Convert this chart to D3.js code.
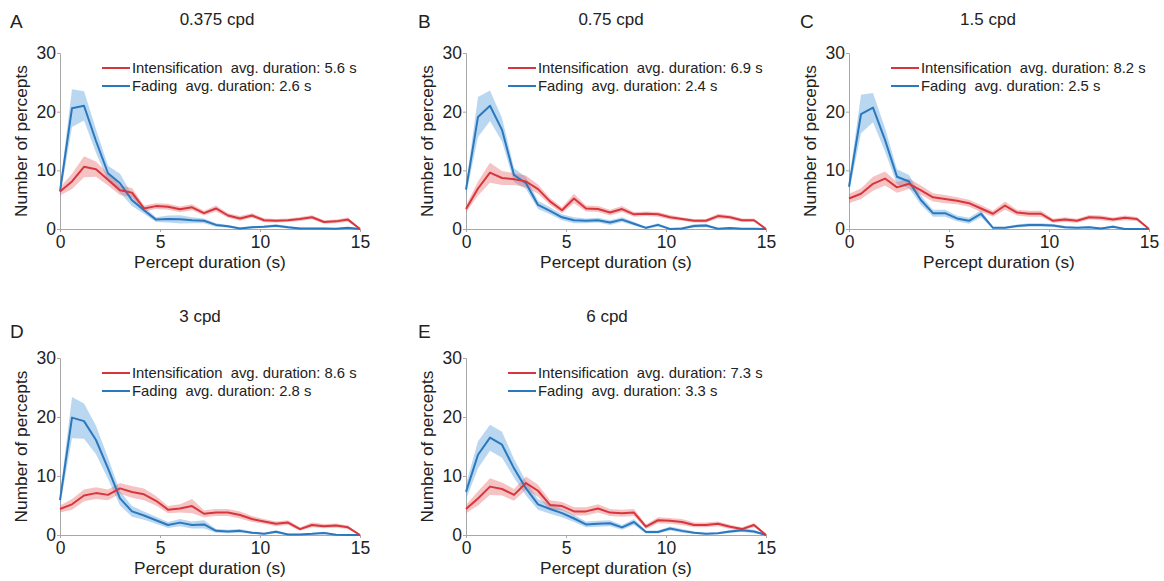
<!DOCTYPE html>
<html>
<head>
<meta charset="utf-8">
<script src="https://cdn.jsdelivr.net/npm/d3@7"></script>
<style>
  body { margin: 0; background: #fff; }
  svg text { font-family: "Liberation Sans", Arial, Helvetica, sans-serif; fill: #222; }
</style>
</head>
<body>
<svg id="fig" width="1164" height="581"></svg>
<script>
// Percept-duration histogram bins (s)
const durationBins = [0, 0.6, 1.2, 1.8, 2.4, 3.0, 3.6, 4.2, 4.8, 5.4, 6.0, 6.6, 7.2, 7.8, 8.4, 9.0, 9.6, 10.2, 10.8, 11.4, 12.0, 12.6, 13.2, 13.8, 14.4, 15.0];
const xTickValues = [0, 5, 10, 15];
const yTickValues = [0, 10, 20, 30];

const panelLetters = ["A", "B", "C", "D", "E"];
const panelTitles = ["0.375 cpd", "0.75 cpd", "1.5 cpd", "3 cpd", "6 cpd"];
const intensAvg = [5.6, 6.9, 8.2, 8.6, 7.3];
const fadingAvg = [2.6, 2.4, 2.5, 2.8, 3.3];

// Mean number of percepts per bin and the half-width of the shaded error band
const intensA    = [6.4, 8.1, 10.6, 10.2, 8.4, 6.6, 6.2, 3.5, 3.9, 3.8, 3.35, 3.7, 2.7, 3.5, 2.3, 1.8, 2.3, 1.5, 1.4, 1.5, 1.7, 2.0, 1.2, 1.3, 1.6, 0];
const intensAErr = [0.7, 1.3, 1.8, 1.3, 1.0, 0.8, 0.8, 0.5, 0.5, 0.5, 0.5, 0.5, 0.4, 0.5, 0.4, 0.4, 0.4, 0.35, 0.3, 0.3, 0.35, 0.35, 0.3, 0.3, 0.35, 0.05];
const fadingA    = [6.4, 20.6, 21.0, 15.0, 9.5, 7.8, 4.9, 3.2, 1.6, 1.7, 1.65, 1.5, 1.4, 0.7, 0.45, 0.1, 0.3, 0.4, 0.55, 0.3, 0.1, 0.1, 0.1, 0.05, 0.2, 0];
const fadingAErr = [0.9, 3.2, 2.5, 2.0, 1.3, 1.6, 1.0, 0.6, 0.4, 0.6, 0.7, 0.5, 0.4, 0.3, 0.25, 0.15, 0.2, 0.2, 0.25, 0.2, 0.15, 0.1, 0.1, 0.1, 0.15, 0.05];

const intensB    = [3.4, 6.9, 9.6, 8.7, 8.5, 8.1, 6.8, 4.7, 3.2, 5.2, 3.5, 3.4, 2.8, 3.4, 2.5, 2.6, 2.5, 2.0, 1.7, 1.4, 1.4, 2.2, 2.0, 1.5, 1.5, 0];
const intensBErr = [0.6, 1.2, 1.7, 1.2, 1.0, 1.0, 0.8, 0.6, 0.5, 0.8, 0.5, 0.5, 0.5, 0.5, 0.4, 0.4, 0.4, 0.4, 0.3, 0.3, 0.3, 0.4, 0.35, 0.3, 0.3, 0.05];
const fadingB    = [6.7, 19.1, 21.0, 16.9, 9.2, 7.8, 4.1, 3.1, 2.0, 1.5, 1.4, 1.5, 1.1, 1.6, 0.9, 0.2, 0.7, 0.0, 0.1, 0.5, 0.6, 0.05, 0.15, 0.05, 0.05, 0];
const fadingBErr = [0.9, 3.4, 2.6, 2.0, 1.2, 1.0, 0.7, 0.6, 0.5, 0.5, 0.4, 0.4, 0.4, 0.4, 0.3, 0.2, 0.3, 0.1, 0.2, 0.3, 0.3, 0.1, 0.1, 0.1, 0.1, 0.05];

const intensC    = [5.2, 6.0, 7.7, 8.6, 7.1, 7.7, 6.6, 5.4, 5.1, 4.8, 4.4, 3.5, 2.6, 4.0, 2.8, 2.6, 2.6, 1.4, 1.6, 1.4, 2.0, 1.9, 1.6, 1.9, 1.7, 0];
const intensCErr = [0.8, 0.9, 1.2, 1.2, 0.9, 0.9, 0.8, 0.7, 0.7, 0.6, 0.6, 0.6, 0.5, 0.7, 0.5, 0.5, 0.5, 0.35, 0.4, 0.35, 0.4, 0.4, 0.35, 0.4, 0.35, 0.05];
const fadingC    = [7.2, 19.6, 20.7, 15.2, 8.9, 8.1, 4.9, 2.7, 2.7, 1.8, 1.4, 2.6, 0.2, 0.2, 0.5, 0.7, 0.7, 0.6, 0.3, 0.2, 0.3, 0.1, 0.4, 0.0, 0.0, 0];
const fadingCErr = [1.0, 3.3, 2.5, 2.0, 1.3, 1.1, 0.8, 0.6, 0.6, 0.5, 0.5, 0.6, 0.15, 0.15, 0.25, 0.3, 0.3, 0.25, 0.2, 0.15, 0.2, 0.1, 0.25, 0.05, 0.05, 0.05];

const intensD    = [4.4, 5.2, 6.7, 7.1, 6.8, 7.9, 7.3, 6.9, 5.8, 4.3, 4.5, 4.9, 3.6, 3.8, 3.8, 3.4, 2.7, 2.3, 1.9, 2.1, 1.0, 1.7, 1.5, 1.6, 1.3, 0];
const intensDErr = [0.6, 0.9, 1.0, 1.0, 0.9, 0.9, 1.0, 1.0, 0.8, 0.6, 0.7, 1.2, 0.6, 0.6, 0.6, 0.6, 0.5, 0.4, 0.4, 0.4, 0.3, 0.4, 0.35, 0.35, 0.3, 0.05];
const fadingD    = [5.9, 19.9, 19.3, 16.1, 11.3, 6.2, 4.0, 3.3, 2.5, 1.7, 2.1, 1.7, 1.8, 0.7, 0.6, 0.7, 0.4, 0.2, 0.55, 0.1, 0.1, 0.2, 0.35, 0.05, 0.0, 0];
const fadingDErr = [1.0, 3.5, 3.0, 2.4, 1.8, 1.2, 0.9, 0.7, 0.6, 0.5, 0.6, 0.6, 0.7, 0.3, 0.3, 0.3, 0.2, 0.15, 0.25, 0.1, 0.1, 0.15, 0.2, 0.05, 0.05, 0.05];

const intensE    = [4.4, 6.2, 8.2, 7.8, 6.8, 8.8, 7.5, 5.1, 4.9, 4.0, 4.0, 4.5, 3.8, 3.7, 3.8, 1.4, 2.5, 2.4, 2.2, 1.7, 1.7, 1.9, 1.4, 1.0, 1.7, 0];
const intensEErr = [0.7, 1.2, 1.4, 1.1, 1.0, 1.1, 1.0, 0.8, 0.7, 0.7, 0.7, 0.7, 0.6, 0.6, 0.6, 0.4, 0.5, 0.5, 0.5, 0.4, 0.4, 0.4, 0.35, 0.3, 0.35, 0.05];
const fadingE    = [7.3, 13.6, 16.5, 15.3, 11.3, 7.9, 5.2, 4.4, 3.7, 2.8, 1.8, 1.9, 2.0, 1.3, 2.2, 0.5, 0.5, 1.1, 0.7, 0.4, 0.2, 0.3, 0.6, 0.8, 0.6, 0];
const fadingEErr = [1.3, 2.3, 2.2, 2.2, 1.6, 1.2, 0.9, 0.8, 0.7, 0.6, 0.5, 0.5, 0.5, 0.4, 0.5, 0.25, 0.25, 0.35, 0.3, 0.2, 0.15, 0.15, 0.25, 0.3, 0.3, 0.05];

const intensSeries = [intensA, intensB, intensC, intensD, intensE];
const intensErrors = [intensAErr, intensBErr, intensCErr, intensDErr, intensEErr];
const fadingSeries = [fadingA, fadingB, fadingC, fadingD, fadingE];
const fadingErrors = [fadingAErr, fadingBErr, fadingCErr, fadingDErr, fadingEErr];

// Placement of each panel on the page
const frames = [
  { left: 60,  top: 53,  bottom: 229, letterX: 10,  letterY: 28,  titleX: 217, titleY: 25 },
  { left: 466, top: 53,  bottom: 229, letterX: 418, letterY: 28,  titleX: 611, titleY: 25 },
  { left: 849, top: 53,  bottom: 229, letterX: 800, letterY: 28,  titleX: 988, titleY: 25 },
  { left: 60,  top: 358, bottom: 535, letterX: 10,  letterY: 338, titleX: 200, titleY: 322 },
  { left: 466, top: 358, bottom: 535, letterX: 418, letterY: 338, titleX: 607, titleY: 322 }
];
const plotWidth = 300;

const colors = {
  intens: "#d6363c", intensBand: "rgba(232, 96, 100, 0.38)",
  fading: "#2a78bd", fadingBand: "rgba(90, 160, 222, 0.42)",
  axis: "#a8a8a8"
};

const svg = d3.select("#fig");

frames.forEach((f, p) => {
  const x = d3.scaleLinear().domain([0, 15]).range([f.left, f.left + plotWidth]);
  const y = d3.scaleLinear().domain([0, 30]).range([f.bottom, f.top]);
  const g = svg.append("g");

  // panel letter and title
  g.append("text").attr("x", f.letterX).attr("y", f.letterY)
    .style("font-size", "19px").text(panelLetters[p]);
  g.append("text").attr("x", f.titleX).attr("y", f.titleY)
    .attr("text-anchor", "middle").style("font-size", "17px").text(panelTitles[p]);

  // axes
  const xAxis = g.append("g").attr("transform", `translate(0,${f.bottom})`)
    .call(d3.axisBottom(x).tickValues(xTickValues).tickSize(3).tickPadding(3).tickFormat(d3.format("d")));
  const yAxis = g.append("g").attr("transform", `translate(${f.left},0)`)
    .call(d3.axisLeft(y).tickValues(yTickValues).tickSize(3).tickPadding(1).tickFormat(d3.format("d")));
  [xAxis, yAxis].forEach(a => {
    a.select(".domain").attr("stroke", colors.axis).attr("stroke-width", 1);
    a.selectAll(".tick line").attr("stroke", colors.axis);
    a.selectAll(".tick text").style("font-size", "17.5px").attr("fill", "#222")
      .style("font-family", "\"Liberation Sans\", Arial, sans-serif");
  });
  xAxis.selectAll(".tick text").attr("dy", "0.76em");

  // axis titles
  g.append("text").attr("x", f.left + plotWidth / 2).attr("y", f.bottom + 39)
    .attr("text-anchor", "middle").style("font-size", "17.3px").text("Percept duration (s)");
  g.append("text")
    .attr("transform", `translate(${f.left - 33},${(f.top + f.bottom) / 2}) rotate(-90)`)
    .attr("text-anchor", "middle").style("font-size", "17.3px").text("Number of percepts");

  const series = [
    { key: "fading", mean: fadingSeries[p], err: fadingErrors[p] },
    { key: "intens", mean: intensSeries[p], err: intensErrors[p] }
  ];

  const band = d3.area()
    .x((d, i) => x(durationBins[i]))
    .y0(d => y(Math.max(0, d[0] - d[1])))
    .y1(d => y(d[0] + d[1]));
  const line = d3.line()
    .x((d, i) => x(durationBins[i]))
    .y(d => y(d));

  series.forEach(s => {
    g.append("path").datum(d3.zip(s.mean, s.err))
      .attr("d", band).attr("fill", colors[s.key + "Band"]).attr("stroke", "none");
  });
  series.forEach(s => {
    g.append("path").datum(s.mean)
      .attr("d", line).attr("fill", "none").attr("stroke", colors[s.key])
      .attr("stroke-width", 2).attr("stroke-linejoin", "round");
  });

  // legend
  const legend = [
    { key: "intens", label: `Intensification  avg. duration: ${intensAvg[p]} s` },
    { key: "fading", label: `Fading  avg. duration: ${fadingAvg[p]} s` }
  ];
  legend.forEach((l, i) => {
    const ly = f.top + 15 + i * 18;
    g.append("line").attr("x1", f.left + 42).attr("x2", f.left + 70)
      .attr("y1", ly).attr("y2", ly).attr("stroke", colors[l.key]).attr("stroke-width", 2);
    g.append("text").attr("x", f.left + 72).attr("y", ly).attr("dy", "0.36em")
      .style("font-size", "14.8px").style("white-space", "pre").text(l.label);
  });
});
</script>
</body>
</html>
